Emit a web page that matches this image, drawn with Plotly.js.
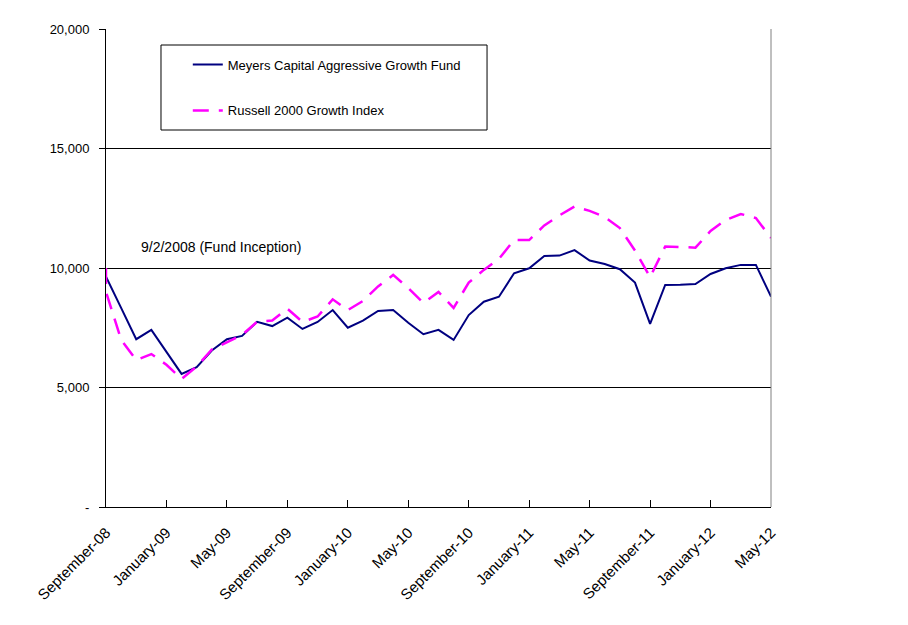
<!DOCTYPE html>
<html>
<head>
<meta charset="utf-8">
<script src="https://cdn.plot.ly/plotly-3.0.1.min.js"></script>
<style>html,body{margin:0;padding:0;background:#fff;}#chart{width:908px;height:625px;}</style>
</head>
<body>
<div id="chart"></div>
<script>
// Month positions (0 = September-08 ... 44 = May-12); first entry is 9/2/2008 inception
const monthIndex = [0,0,1,2,3,4,5,6,7,8,9,10,11,12,13,14,15,16,17,18,19,20,21,22,23,24,25,26,27,28,29,30,31,32,33,34,35,36,37,38,39,40,41,42,43,44];
const fundValues = [10000,9640,8330,7020,7410,6490,5570,5850,6550,7020,7160,7750,7570,7920,7450,7740,8240,7500,7800,8200,8240,7710,7230,7410,6990,8030,8590,8800,9780,9990,10500,10520,10750,10310,10170,9950,9390,7660,9290,9300,9330,9750,9990,10130,10130,8800];
const russellValues = [10000,9000,7000,6150,6400,5950,5360,5880,6590,6900,7200,7750,7800,8300,7740,7970,8690,8240,8620,9230,9710,9160,8540,9000,8330,9390,9920,10380,11170,11170,11780,12200,12570,12390,12130,11670,10730,9620,10900,10880,10850,11550,12010,12260,12090,11260];
const tickPositions = [0,4,8,12,16,20,24,28,32,36,40,44];
const tickLabels = ["September-08","January-09","May-09","September-09","January-10","May-10","September-10","January-11","May-11","September-11","January-12","May-12"];
const yTickValues = [0,5000,10000,15000,20000];
const yTickLabels = ["-","5,000","10,000","15,000","20,000"];
const seriesNames = ["Meyers Capital Aggressive Growth Fund","Russell 2000 Growth Index"];
const annotationText = "9/2/2008 (Fund Inception)";

const font = "Liberation Sans, Arial, sans-serif";

const traces = [
  {x: monthIndex, y: fundValues, name: seriesNames[0], type: "scatter", mode: "lines",
   line: {color: "#000080", width: 2}, legendgroup: "a"},
  {x: monthIndex, y: russellValues, name: seriesNames[1], type: "scatter", mode: "lines",
   line: {color: "#FF00FF", width: 2.5, dash: "16px,10px"}, legendgroup: "b"}
];

const layout = {
  width: 908, height: 625,
  margin: {l: 106, r: 137, t: 29, b: 118},
  paper_bgcolor: "#fff", plot_bgcolor: "#fff",
  font: {family: font, size: 13, color: "#000"},
  showlegend: true,
  legend: {x: 0.123, y: 0.957, xanchor: "left", yanchor: "top", bgcolor: "rgba(0,0,0,0)",
           borderwidth: 0, font: {family: font, size: 13}, tracegroupgap: 26, traceorder: "grouped"},
  xaxis: {range: [0, 44], tickvals: tickPositions, ticktext: tickLabels, tickangle: -45,
          showgrid: false, zeroline: false, showline: true, linecolor: "#000", linewidth: 1,
          ticks: "inside", ticklen: 7, tickcolor: "#000", ticklabelstandoff: 10,
          tickfont: {family: font, size: 15}},
  yaxis: {range: [0, 20000], tickvals: yTickValues, ticktext: yTickLabels,
          showgrid: true, gridcolor: "#000", gridwidth: 1, zeroline: false,
          showline: true, linecolor: "#000", linewidth: 1, ticks: "outside", ticklen: 6,
          tickcolor: "#000", ticklabelstandoff: 7, tickfont: {family: font, size: 13}},
  shapes: [
    {type: "line", xref: "paper", yref: "paper", x0: 1, x1: 1, y0: 0, y1: 1,
     line: {color: "#808080", width: 1}},
    {type: "rect", xref: "paper", yref: "paper", x0: 0.0827, x1: 0.573, y0: 0.7887, y1: 0.9665,
     line: {color: "#000", width: 1}, fillcolor: "rgba(0,0,0,0)", layer: "below"}
  ],
  annotations: [
    {x: 7.6, y: 10880, xref: "x", yref: "y", text: annotationText, showarrow: false,
     font: {family: font, size: 14, color: "#000"}}
  ]
};

Plotly.newPlot("chart", traces, layout, {displayModeBar: false, staticPlot: true});
</script>
</body>
</html>
